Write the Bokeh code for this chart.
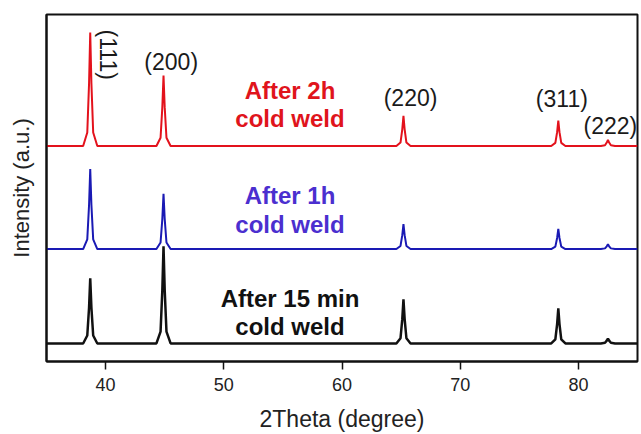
from bokeh.plotting import figure
from bokeh.models import Range1d, Label, FixedTicker
from bokeh.embed import file_html
from bokeh.resources import INLINE

# ---- data ----
two_theta = [35.0,
             38.1, 38.45, 38.6, 38.7, 38.8, 38.95, 39.3,
             44.3, 44.65, 44.8, 44.9, 45.0, 45.15, 45.5,
             64.6, 64.95, 65.1, 65.2, 65.3, 65.45, 65.8,
             77.7, 78.05, 78.2, 78.3, 78.4, 78.55, 78.9,
             81.9, 82.25, 82.4, 82.5, 82.6, 82.75, 83.1,
             85.0]

int_2h = [62.1,
          62.1, 66.0, 80.1, 94.8, 80.1, 66.0, 62.1,
          62.1, 64.5, 73.3, 82.4, 73.3, 64.5, 62.1,
          62.1, 63.1, 66.9, 70.8, 66.9, 63.1, 62.1,
          62.1, 63.0, 66.1, 69.4, 66.1, 63.0, 62.1,
          62.1, 62.3, 63.1, 63.9, 63.1, 62.3, 62.1,
          62.1]

int_1h = [32.4,
          32.4, 35.2, 45.1, 55.5, 45.1, 35.2, 32.4,
          32.4, 34.3, 41.1, 48.3, 41.1, 34.3, 32.4,
          32.4, 33.3, 36.4, 39.6, 36.4, 33.3, 32.4,
          32.4, 33.1, 35.6, 38.2, 35.6, 33.1, 32.4,
          32.4, 32.6, 33.2, 33.8, 33.2, 32.6, 32.4,
          32.4]

int_15min = [5.2,
             5.2, 7.5, 15.5, 24.0, 15.5, 7.5, 5.2,
             5.2, 8.6, 20.6, 33.2, 20.6, 8.6, 5.2,
             5.2, 6.7, 12.2, 17.9, 12.2, 6.7, 5.2,
             5.2, 6.4, 10.8, 15.3, 10.8, 6.4, 5.2,
             5.2, 5.4, 6.0, 6.6, 6.0, 5.4, 5.2,
             5.2]

hkl_labels = ["(111)", "(200)", "(220)", "(311)", "(222)"]
sample_line1 = ["After 2h", "After 1h", "After 15 min"]
sample_line2 = ["cold weld", "cold weld", "cold weld"]
x_ticks = [40, 50, 60, 70, 80]

FONT = "Liberation Sans"

p = figure(width=640, height=434, output_backend="svg", toolbar_location=None,
           x_range=Range1d(35, 85), y_range=Range1d(0, 100),
           min_border_left=46, min_border_right=3, min_border_top=14,
           min_border_bottom=0)

p.xgrid.visible = False
p.ygrid.visible = False
p.outline_line_color = "#111111"
p.outline_line_width = 2
p.background_fill_color = "white"
p.border_fill_color = "white"

# traces
p.line(two_theta, int_15min, line_color="#111111", line_width=2.5)
p.line(two_theta, int_1h, line_color="#1a1ab4", line_width=2)
p.line(two_theta, int_2h, line_color="#e3121c", line_width=2)

# x axis
xa = p.xaxis[0]
xa.ticker = FixedTicker(ticks=x_ticks)
xa.minor_tick_line_color = None
xa.major_tick_in = 0
xa.major_tick_out = 8
xa.major_tick_line_width = 1.5
xa.major_tick_line_color = "#111111"
xa.axis_line_color = "#111111"
xa.axis_line_width = 2
xa.major_label_text_font = FONT
xa.major_label_text_font_size = "18px"
xa.major_label_text_color = "#222222"
xa.major_label_standoff = 8
xa.axis_label = "2Theta (degree)"
xa.axis_label_text_font = FONT
xa.axis_label_text_font_size = "23px"
xa.axis_label_text_font_style = "normal"
xa.axis_label_text_color = "#222222"
xa.axis_label_standoff = 12

# y axis (no ticks)
ya = p.yaxis[0]
ya.ticker = FixedTicker(ticks=[])
ya.minor_tick_line_color = None
ya.major_tick_line_color = None
ya.axis_line_color = "#111111"
ya.axis_line_width = 2
ya.axis_label = "Intensity (a.u.)"
ya.axis_label_text_font = FONT
ya.axis_label_text_font_size = "22px"
ya.axis_label_text_font_style = "normal"
ya.axis_label_text_color = "#222222"
ya.axis_label_standoff = 13

# hkl annotations
hkl_pos = [(40.2, 88.4, -1.5708), (45.55, 86.2, 0), (65.8, 76.0, 0),
           (78.6, 75.7, 0), (82.7, 67.9, 0)]
for txt, (lx, ly, ang) in zip(hkl_labels, hkl_pos):
    p.add_layout(Label(x=lx, y=ly, text=txt, angle=ang,
                       text_align="center", text_baseline="middle",
                       text_font=FONT, text_font_size="23px",
                       text_color="#1a1a1a"))

# sample annotations
colors = ["#e0141c", "#4b2fcf", "#111111"]
line_ys = [(78.0, 69.9), (47.7, 39.6), (18.2, 10.1)]
for l1, l2, c, (y1, y2) in zip(sample_line1, sample_line2, colors, line_ys):
    for t, yy in ((l1, y1), (l2, y2)):
        p.add_layout(Label(x=55.6, y=yy, text=t,
                           text_align="center", text_baseline="middle",
                           text_font=FONT, text_font_size="24px",
                           text_font_style="bold", text_color=c))

open("out.html", "w").write(file_html(p, INLINE))
